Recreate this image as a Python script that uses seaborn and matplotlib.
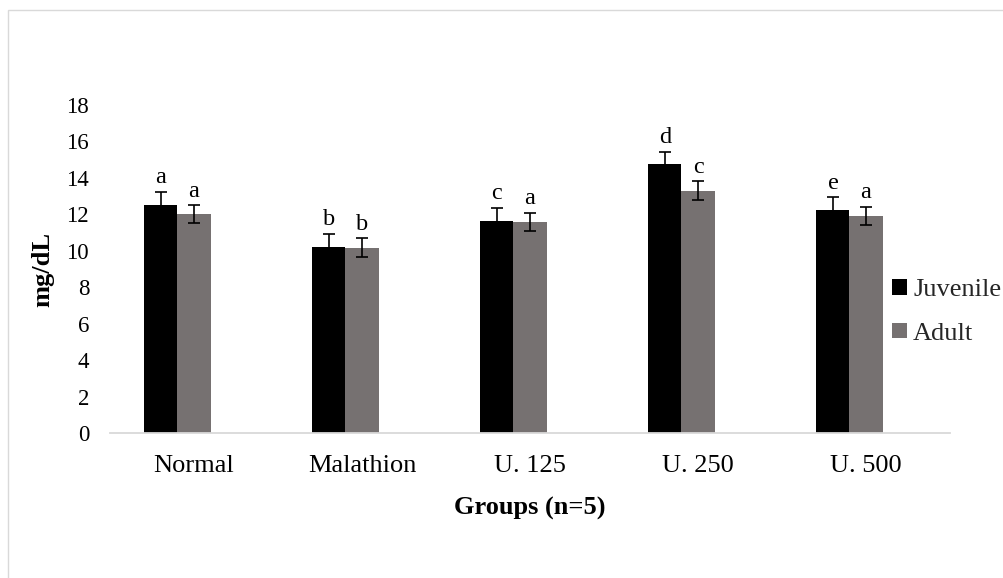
import matplotlib
matplotlib.use("Agg")
import matplotlib.pyplot as plt
import matplotlib.patches as mpatches
import seaborn as sns
import pandas as pd
import numpy as np

categories = ["Normal", "Malathion", "U. 125", "U. 250", "U. 500"]
juvenile = [12.5, 10.23, 11.65, 14.76, 12.24]
adult = [12.0, 10.17, 11.6, 13.3, 11.91]
juvenile_err = [0.75, 0.7, 0.7, 0.68, 0.7]
adult_err = [0.5, 0.53, 0.5, 0.52, 0.5]
juvenile_letters = ["a", "b", "c", "d", "e"]
adult_letters = ["a", "b", "a", "c", "a"]
series = ["Juvenile", "Adult"]
yticks = [0, 2, 4, 6, 8, 10, 12, 14, 16, 18]

sns.set_theme(style="white")
plt.rcParams["font.family"] = ["Liberation Serif", "DejaVu Serif"]

# empty third series mimics the Excel offset of the clustered bars
rows = []
for c, j, a in zip(categories, juvenile, adult):
    rows.append({"group": c, "series": "Juvenile", "value": j})
    rows.append({"group": c, "series": "Adult", "value": a})
    rows.append({"group": c, "series": "_blank", "value": 0.0})
df = pd.DataFrame(rows)

fig = plt.figure(figsize=(10.04, 5.78), dpi=100)
ax = fig.add_axes([110 / 1004, 1 - 433 / 578, 840 / 1004, 328 / 578])

palette = {"Juvenile": "#000000", "Adult": "#767171", "_blank": (0, 0, 0, 0)}
sns.barplot(data=df, x="group", y="value", hue="series",
            hue_order=["Juvenile", "Adult", "_blank"], order=categories,
            palette=palette, width=0.59, errorbar=None, legend=False,
            saturation=1, ax=ax, linewidth=0)

errs = [juvenile_err, adult_err]
vals = [juvenile, adult]
letters = [juvenile_letters, adult_letters]
for k in range(2):
    cont = ax.containers[k]
    xs = [p.get_x() + p.get_width() / 2 for p in cont.patches]
    ax.errorbar(xs, vals[k], yerr=errs[k], fmt="none", ecolor="black",
                elinewidth=1.2, capsize=4.3, capthick=1.2, zorder=5)
    for x, v, e, t in zip(xs, vals[k], errs[k], letters[k]):
        ax.annotate(t, xy=(x, v + e), xytext=(0, 2.5), textcoords="offset points",
                    ha="center", va="bottom", fontsize=17.5, color="black")

ax.set_xlim(-0.5, 4.5)
ax.set_ylim(0, 18)
ax.set_yticks(yticks)
ax.set_yticklabels([str(t) for t in yticks])
for s in ["left", "right", "top"]:
    ax.spines[s].set_visible(False)
ax.spines["bottom"].set_color("#d9d9d9")
ax.spines["bottom"].set_linewidth(1.3)
ax.set_xticks(np.arange(-0.5, 5, 1.0), minor=True)
ax.tick_params(axis="x", which="minor", length=6, width=1.3, color="#d9d9d9", direction="out")
ax.tick_params(axis="x", which="major", length=0, pad=16, labelsize=19, labelcolor="black")
ax.tick_params(axis="y", length=0, pad=15, labelsize=16.5, labelcolor="black")

ax.set_xlabel("Groups (n=5)", fontsize=19, fontweight="bold", color="black")
ax.set_ylabel("mg/dL", fontsize=19, fontweight="bold", color="black")
ax.xaxis.set_label_coords(0.5, -0.195)
ax.yaxis.set_label_coords(-0.066, 0.5)

handles = [mpatches.Patch(facecolor="#000000", edgecolor="none", label="Juvenile"),
           mpatches.Patch(facecolor="#767171", edgecolor="none", label="Adult")]
fig.legend(handles=handles, loc="center left", bbox_to_anchor=(892 / 1004, 1 - 312 / 578),
           frameon=False, fontsize=19, handlelength=0.55, handleheight=0.55,
           handletextpad=0.25, labelspacing=0.8, borderpad=0, borderaxespad=0)

fig.patches.append(mpatches.Rectangle((8 / 1004, -0.1), 1.2, 1.1 - 11 / 578 + 0.001,
                                      transform=fig.transFigure, fill=False,
                                      edgecolor="#d9d9d9", linewidth=1))

fig.savefig("out.png", dpi=100)
